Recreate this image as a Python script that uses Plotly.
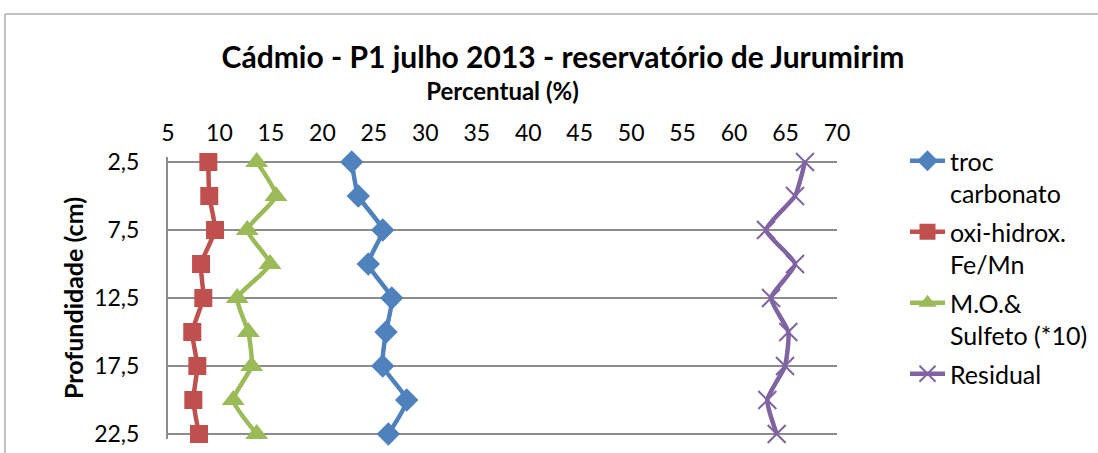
import plotly.graph_objects as go

# Depth of each sediment layer (cm)
profundidade = [2.5, 5, 7.5, 10, 12.5, 15, 17.5, 20, 22.5]

# Cadmium fractions (%) per layer
troc_carbonato = [22.85, 23.49, 25.86, 24.46, 26.74, 26.18, 25.86, 28.19, 26.41]
oxi_hidrox = [8.92, 9.01, 9.57, 8.21, 8.43, 7.36, 7.85, 7.46, 8.01]
mo_sulfeto = [13.62, 15.49, 12.70, 14.91, 11.73, 12.80, 13.13, 11.34, 13.62]
residual = [66.89, 65.92, 63.10, 65.92, 63.59, 65.27, 64.95, 63.23, 64.14]

x_ticks = [5, 10, 15, 20, 25, 30, 35, 40, 45, 50, 55, 60, 65, 70]
y_ticks = [2.5, 7.5, 12.5, 17.5, 22.5]
y_tick_text = ["2,5", "7,5", "12,5", "17,5", "22,5"]

FONT = "Lato"
GRID = "#8C8C8C"

series = [
    ("troc<br>carbonato", troc_carbonato, "#4F81BD", "diamond", 18, None),
    ("oxi-hidrox.<br>Fe/Mn", oxi_hidrox, "#C0504D", "square", 18, None),
    ("M.O.&<br>Sulfeto (*10)", mo_sulfeto, "#9BBB59", "triangle-up", 20, None),
    ("Residual", residual, "#8064A2", "x-thin", 18, 2),
]

fig = go.Figure()
for i, (name, vals, color, symbol, size, lw) in enumerate(series):
    marker = dict(symbol=symbol, size=size, color=color)
    if lw:
        marker["line"] = dict(color=color, width=lw)
    fig.add_trace(go.Scatter(
        x=vals, y=profundidade, name=name, mode="lines+markers",
        line=dict(color=color, width=4.5, shape="spline", smoothing=0.5),
        marker=marker, cliponaxis=False, legendgroup=str(i),
    ))

W, H = 1098, 453
# plot area in pixels; y range padded a little beyond the first/last depth
L, R, T, B = 168, 837, 157, 439
pw, ph = R - L, B - T
unit = (434 - 162) / 20.0
y_top = 2.5 - (162 - T) / unit
y_bot = 22.5 + (B - 434) / unit

def px_x(p):
    return (p - L) / pw

def px_y(p):
    return (B - p) / ph

# horizontal gridlines at each labelled depth, spanning the plot width
grid_shapes = [
    dict(type="line", xref="paper", yref="y", x0=0, x1=1, y0=v, y1=v,
         line=dict(color=GRID, width=2), layer="below")
    for v in y_ticks
]
# outer chart frame
frame = dict(
    type="rect", xref="paper", yref="paper",
    x0=px_x(5), x1=px_x(1105), y0=px_y(470), y1=px_y(14),
    line=dict(color="#868686", width=1), layer="below",
)

fig.update_layout(
    width=W, height=H,
    margin=dict(l=L, r=W - R, t=T, b=H - B, autoexpand=False),
    paper_bgcolor="white", plot_bgcolor="white",
    font=dict(family=FONT, size=23, color="black"),
    title=dict(
        text="<b>Cádmio - P1 julho 2013 - reservatório de Jurumirim</b>",
        x=563 / W, xanchor="center", y=1 - 57 / H, yanchor="middle",
        font=dict(family=FONT, size=30, color="black"),
    ),
    xaxis=dict(
        side="top", range=[5, 70], tickvals=x_ticks, showgrid=False,
        showline=False, zeroline=False, ticks="",
        tickfont=dict(size=23), ticklabelstandoff=10,
        title=dict(text="<b>Percentual (%)</b>", font=dict(size=24), standoff=11),
    ),
    yaxis=dict(
        range=[y_bot, y_top], tickvals=y_ticks, ticktext=y_tick_text,
        showgrid=False,
        showline=True, linecolor=GRID, linewidth=2,
        zeroline=False, ticks="", tickfont=dict(size=23), ticklabelstandoff=22,
        title=dict(text="<b>Profundidade (cm)</b>", font=dict(size=25), standoff=3),
    ),
    legend=dict(
        x=px_x(905), xanchor="left", y=px_y(138), yanchor="top",
        valign="top", tracegroupgap=3, font=dict(size=25),
        itemwidth=35, maxheight=420,
        bgcolor="rgba(0,0,0,0)",
    ),
    shapes=[frame] + grid_shapes,
)

fig.write_html("out.html")
